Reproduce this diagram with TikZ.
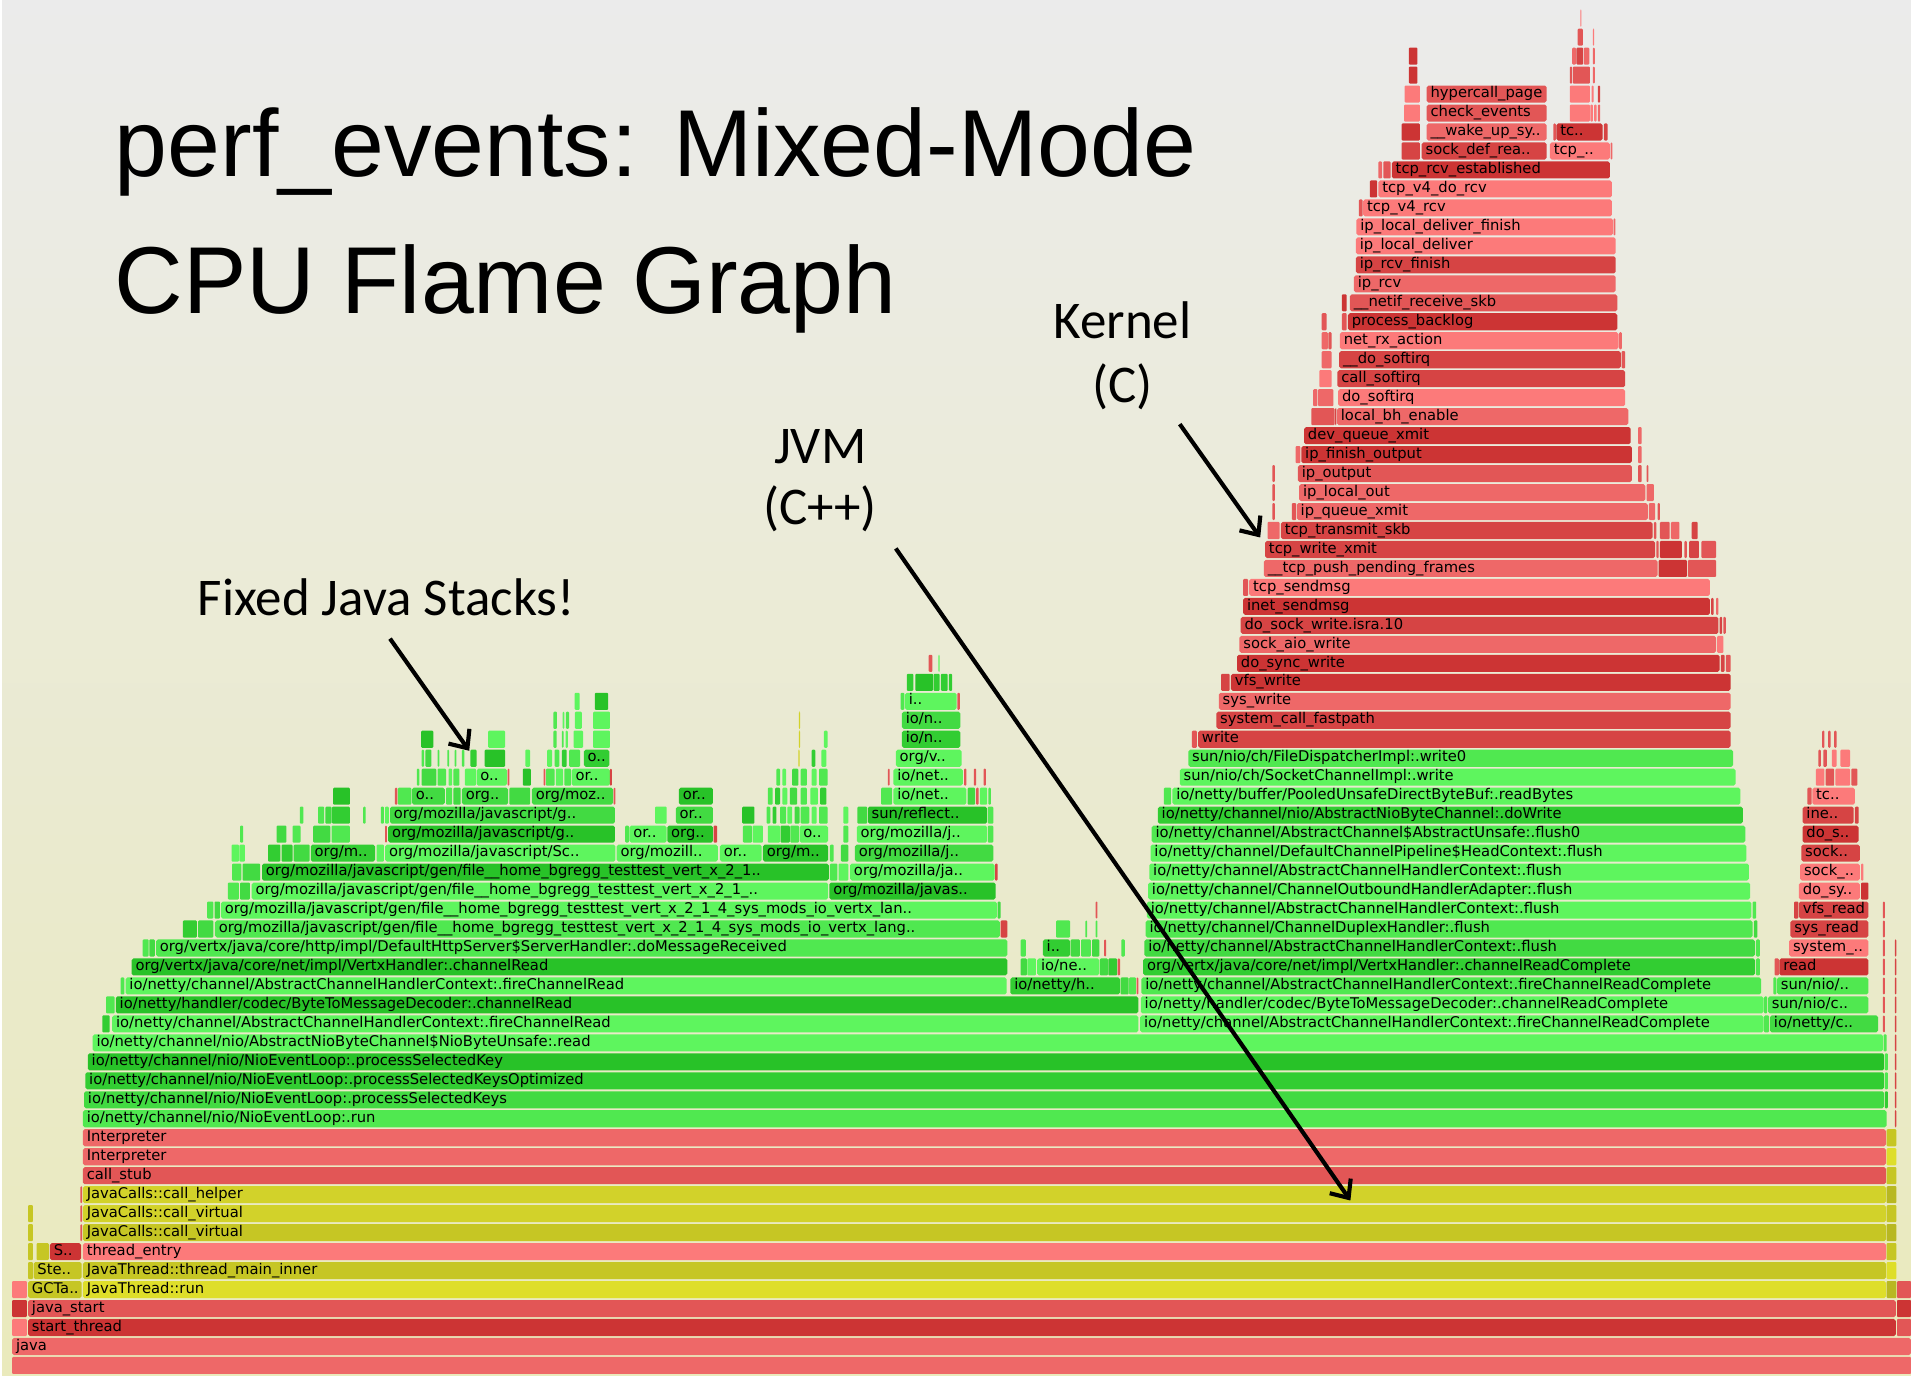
\documentclass[tikz,border=0pt]{standalone}
\usepackage{fontspec}
\usetikzlibrary{arrows.meta}
\newfontfamily\barfont{DejaVu Sans}
\newfontfamily\titlefont{Liberation Sans}
\newfontfamily\annfont{Carlito}
\definecolor{gA}{RGB}{94,245,94}
\definecolor{gB}{RGB}{80,232,80}
\definecolor{gC}{RGB}{66,218,66}
\definecolor{gD}{RGB}{50,205,50}
\definecolor{gE}{RGB}{40,194,40}
\definecolor{rA}{RGB}{252,122,122}
\definecolor{rB}{RGB}{238,104,104}
\definecolor{rC}{RGB}{226,86,86}
\definecolor{rD}{RGB}{214,68,68}
\definecolor{rE}{RGB}{204,52,52}
\definecolor{yA}{RGB}{222,222,42}
\definecolor{yB}{RGB}{210,210,42}
\definecolor{yC}{RGB}{198,198,36}
\definecolor{yD}{RGB}{184,184,34}
\definecolor{bgT}{RGB}{235,235,235}
\definecolor{bgB}{RGB}{234,234,188}
\newcounter{bc}
\newcommand{\FB}[5]{%
  \pgfmathsetmacro{\yc}{1120.37-15.57*#3}%
  \stepcounter{bc}%
  \fill[#4,rounded corners=1.5pt] (#1,\yc-7) rectangle (#2,\yc+7);%
  \node[lbl] (bar\arabic{bc}) at (#1+3,\yc+3) {#5};}
\newcommand{\FS}[4]{%
  \pgfmathsetmacro{\yc}{1120.37-15.57*#3}%
  \fill[#4,rounded corners=0.8pt] (#1,\yc-7) rectangle (#2,\yc+7);}
\begin{document}
\begin{tikzpicture}[x=1pt,y=-1pt,
  lbl/.style={anchor=base west,inner sep=0pt,font={\barfont\fontsize{12.1}{14}\selectfont},text=black},
  ttl/.style={anchor=base west,inner sep=0pt,font={\titlefont\fontsize{78}{90}\selectfont},text=black},
  ann/.style={anchor=base,inner sep=0pt,font={\annfont\fontsize{43.5}{50}\selectfont},text=black},
  arr/.style={line width=3.4pt,-{Straight Barb[length=12pt,width=21pt]}}]
\useasboundingbox (0,0) rectangle (1568,1129);
\shade[top color=bgT,bottom color=bgB] (0,0) rectangle (1568,1129);
\fill[white] (0,0) rectangle (2,1129);
% ---- base rows
\FS{10}{1568}{0}{rB}
\FB{10}{1568}{1}{rB}{java}
\FS{10}{22}{2}{rA}\FB{23}{1555.5}{2}{rE}{start\_thread}\FS{1556.5}{1568}{2}{rC}
\FS{10}{22}{3}{rE}\FB{23}{1555.5}{3}{rC}{java\_start}\FS{1556.5}{1568}{3}{rE}
\FS{10}{22}{4}{rA}\FB{23}{67}{4}{yC}{GCTa..}\FB{68}{1547.5}{4}{yA}{JavaThread::run}\FS{1548}{1556}{4}{yD}\FS{1556.5}{1568}{4}{rC}
\FS{23}{27}{5}{yC}\FB{27.5}{67}{5}{yC}{Ste..}\FB{68}{1547.5}{5}{yC}{JavaThread::thread\_main\_inner}\FS{1548}{1556}{5}{yA}
\FS{23}{27}{6}{yC}\FS{30}{40}{6}{yC}\FB{41}{66.5}{6}{rE}{S..}\FB{68}{1547.5}{6}{rA}{thread\_entry}\FS{1548}{1556}{6}{yC}
\FS{23}{27}{7}{yC}\FS{66}{67.3}{7}{rC}\FB{68}{1547.5}{7}{yC}{JavaCalls::call\_virtual}\FS{1548}{1556}{7}{yD}
\FS{23}{27}{8}{yC}\FS{66}{67.3}{8}{rC}\FB{68}{1547.5}{8}{yB}{JavaCalls::call\_virtual}\FS{1548}{1556}{8}{yC}
\FS{66}{67.3}{9}{rC}\FB{68}{1547.5}{9}{yB}{JavaCalls::call\_helper}\FS{1548}{1556}{9}{yD}
\FB{68}{1547.5}{10}{rC}{call\_stub}\FS{1548}{1556}{10}{yC}
\FB{68}{1547.5}{11}{rB}{Interpreter}\FS{1548}{1556}{11}{yA}
\FB{68}{1547.5}{12}{rB}{Interpreter}\FS{1548}{1556}{12}{yC}
% ---- java netty rows
\FB{68}{1548}{13}{gB}{io/netty/channel/nio/NioEventLoop:.run}
\FB{69}{1546}{14}{gC}{io/netty/channel/nio/NioEventLoop:.processSelectedKeys}\FS{1546.5}{1549}{14}{gD}
\FB{70}{1546}{15}{gD}{io/netty/channel/nio/NioEventLoop:.processSelectedKeysOptimized}\FS{1546.5}{1549}{15}{gB}
\FB{72}{1546}{16}{gE}{io/netty/channel/nio/NioEventLoop:.processSelectedKey}\FS{1546.5}{1549}{16}{gB}
\FB{76}{1545}{17}{gA}{io/netty/channel/nio/AbstractNioByteChannel\$NioByteUnsafe:.read}\FS{1545.5}{1548}{17}{gB}
\foreach \k in {13,...,22}{\FS{1554.8}{1556}{\k}{rD}}
\foreach \k in {18,...,24}{\FS{1545}{1546.5}{\k}{rC}}
% row 18
\FS{84}{90}{18}{gD}
\FB{92}{934}{18}{gA}{io/netty/channel/AbstractChannelHandlerContext:.fireChannelRead}
\FB{935.5}{1447}{18}{gA}{io/netty/channel/AbstractChannelHandlerContext:.fireChannelReadComplete}
\FS{1447.5}{1451.5}{18}{gB}\FB{1452.3}{1541}{18}{gC}{io/netty/c..}
% row 19
\FS{87}{94}{19}{gB}
\FB{95}{934}{19}{gE}{io/netty/handler/codec/ByteToMessageDecoder:.channelRead}
\FB{936}{1447}{19}{gA}{io/netty/handler/codec/ByteToMessageDecoder:.channelReadComplete}
\FS{1447.5}{1450}{19}{gB}\FB{1450.6}{1533}{19}{gB}{sun/nio/c..}
% row 20
\FS{99}{102}{20}{gB}
\FB{103}{826}{20}{gA}{io/netty/channel/AbstractChannelHandlerContext:.fireChannelRead}
\FB{829}{919}{20}{gD}{io/netty/h..}\FS{919.5}{926}{20}{gC}\FS{926.5}{932}{20}{gB}\FS{932.5}{934}{20}{rC}
\FB{936.5}{1445}{20}{gB}{io/netty/channel/AbstractChannelHandlerContext:.fireChannelReadComplete}
\FS{1455}{1457.5}{20}{gB}\FB{1458}{1533}{20}{gB}{sun/nio/..}
% row 21
\FB{108}{826.5}{21}{gE}{org/vertx/java/core/net/impl/VertxHandler:.channelRead}
\FS{837.5}{842.5}{21}{gC}\FS{843}{850}{21}{gA}\FB{851}{902}{21}{gA}{io/ne..}\FS{902.5}{909}{21}{gC}\FS{909.5}{916.5}{21}{gD}\FS{917}{919}{21}{rC}
\FB{938}{1440}{21}{gD}{org/vertx/java/core/net/impl/VertxHandler:.channelReadComplete}\FS{1441}{1444}{21}{gB}
\FS{1456}{1459.5}{21}{rC}\FB{1460}{1533}{21}{rE}{read}
% row 22
\FS{117}{122}{22}{gB}\FS{122.5}{127}{22}{gC}
\FB{128}{826.5}{22}{gB}{org/vertx/java/core/http/impl/DefaultHttpServer\$ServerHandler:.doMessageReceived}
\FS{837.5}{841.7}{22}{gB}\FB{855.6}{878}{22}{gD}{i..}\FS{878.5}{886}{22}{gC}\FS{887}{895}{22}{gB}\FS{896}{902}{22}{gC}\FS{906}{907.5}{22}{rC}\FS{920}{923}{22}{gB}
\FB{939}{1440}{22}{gC}{io/netty/channel/AbstractChannelHandlerContext:.flush}\FS{1441}{1444}{22}{gB}
\FB{1468}{1533}{22}{rA}{system\_..}
% row 23
\FS{150}{161.5}{23}{gD}\FS{162.5}{175}{23}{gC}
\FB{176.4}{820.5}{23}{gB}{org/mozilla/javascript/gen/file\_\_home\_bgregg\_testtest\_vert\_x\_2\_1\_4\_sys\_mods\_io\_vertx\_lang..}
\FS{821}{826.5}{23}{rD}\FS{866.5}{878}{23}{gB}\FS{890.5}{892}{23}{gB}\FS{899}{900.5}{23}{gB}
\FB{940}{1438}{23}{gB}{io/netty/channel/ChannelDuplexHandler:.flush}\FS{1439}{1442}{23}{gC}
\FB{1469}{1533}{23}{rD}{sys\_read}
% row 24
\FS{170}{175}{24}{gB}\FS{176}{180.5}{24}{gC}
\FB{181.3}{818}{24}{gA}{org/mozilla/javascript/gen/file\_\_home\_bgregg\_testtest\_vert\_x\_2\_1\_4\_sys\_mods\_io\_vertx\_lan..}
\FS{818.5}{821}{24}{gC}\FS{899}{900.5}{24}{rC}
\FB{941}{1437}{24}{gA}{io/netty/channel/AbstractChannelHandlerContext:.flush}\FS{1438}{1441}{24}{gB}
\FS{1472}{1475.5}{24}{rD}\FB{1476}{1533}{24}{rD}{vfs\_read}
% row 25
\FS{187}{196}{25}{gB}\FS{197}{205}{25}{gC}
\FB{206.5}{679.5}{25}{gA}{org/mozilla/javascript/gen/file\_\_home\_bgregg\_testtest\_vert\_x\_2\_1\_..}
\FB{680.5}{817}{25}{gE}{org/mozilla/javas..}
\FB{942}{1436}{25}{gA}{io/netty/channel/ChannelOutboundHandlerAdapter:.flush}
\FB{1476}{1526}{25}{rA}{do\_sy..}\FS{1527}{1533}{25}{rE}
% row 26
\FS{190.5}{198}{26}{gB}\FS{199}{213.5}{26}{gC}
\FB{215}{680}{26}{gE}{org/mozilla/javascript/gen/file\_\_home\_bgregg\_testtest\_vert\_x\_2\_1..}
\FS{681}{687}{26}{gB}\FS{688}{696}{26}{gA}\FB{697.5}{816}{26}{gA}{org/mozilla/ja..}\FS{816.5}{818.5}{26}{rD}
\FB{943}{1435}{26}{gA}{io/netty/channel/AbstractChannelHandlerContext:.flush}
\FB{1477}{1526}{26}{rA}{sock\_..}\FS{1527}{1529}{26}{rA}
% row 27
\FS{190}{196}{27}{gA}\FS{196.5}{201}{27}{gA}\FS{220}{230}{27}{gD}\FS{231}{240}{27}{gD}\FS{241}{254}{27}{gC}
\FB{255}{307.7}{27}{gD}{org/m..}\FS{309}{315}{27}{gA}
\FB{316}{505}{27}{gA}{org/mozilla/javascript/Sc..}
\FB{506}{589}{27}{gA}{org/mozill..}\FB{590.7}{625}{27}{gA}{or..}\FB{626}{679.5}{27}{gE}{org/m..}
\FS{681}{684}{27}{gB}\FS{690}{696}{27}{gC}\FB{701.5}{815}{27}{gC}{org/mozilla/j..}
\FB{944}{1433}{27}{gA}{io/netty/channel/DefaultChannelPipeline\$HeadContext:.flush}
\FB{1478}{1526}{27}{rD}{sock..}
% row 28
\FS{197}{199.5}{28}{gB}\FS{227}{235}{28}{gC}\FS{240}{246.6}{28}{gB}\FS{257}{271}{28}{gC}\FS{272}{287}{28}{gB}
\FS{316}{317.5}{28}{rC}\FB{318.5}{504.6}{28}{gE}{org/mozilla/javascript/g..}
\FS{513}{516}{28}{gB}\FB{516.5}{547}{28}{gA}{or..}\FB{547.5}{585}{28}{gE}{org..}\FS{585.5}{588.5}{28}{rD}
\FS{609.6}{617}{28}{gB}\FS{617.5}{626}{28}{gA}\FS{630}{640}{28}{gA}\FS{640.5}{648}{28}{gD}\FS{648.5}{655.5}{28}{gB}
\FB{656}{679.5}{28}{gA}{o..}\FS{692}{696}{28}{gB}\FB{703}{810}{28}{gA}{org/mozilla/j..}\FS{810.5}{815}{28}{gB}
\FB{945}{1432}{28}{gB}{io/netty/channel/AbstractChannel\$AbstractUnsafe:.flush0}
\FB{1479}{1525}{28}{rE}{do\_s..}
% row 29
\FS{246}{249}{29}{gB}\FS{261}{266}{29}{gB}\FS{267}{272}{29}{gC}\FS{272.5}{287}{29}{gD}\FS{298}{300}{29}{gB}\FS{312.5}{315}{29}{gB}\FS{316}{319}{29}{gA}
\FB{320}{504.6}{29}{gC}{org/mozilla/javascript/g..}
\FS{537.5}{547}{29}{gA}\FB{554.5}{585}{29}{gC}{or..}
\FS{609}{619}{29}{gE}\FS{629}{632}{29}{gB}\FS{634}{637}{29}{gD}\FS{640}{645}{29}{gB}\FS{646}{650}{29}{gA}\FS{652}{656}{29}{gC}\FS{657}{664}{29}{gB}\FS{666}{670}{29}{gA}\FS{672}{679}{29}{gB}
\FS{692}{696}{29}{gA}\FS{703.5}{711.5}{29}{gC}\FB{712}{810}{29}{gE}{sun/reflect..}\FS{810.5}{815}{29}{gB}
\FB{950}{1430}{29}{gD}{io/netty/channel/nio/AbstractNioByteChannel:.doWrite}
\FB{1479}{1521}{29}{rD}{ine..}\FS{1522}{1525}{29}{rD}
% row 30
\FS{273.4}{287}{30}{gE}\FS{324}{326}{30}{rC}\FS{326.5}{337.5}{30}{gB}
\FB{338}{365}{30}{gC}{o..}\FS{366}{371}{30}{gB}\FS{372}{378}{30}{gC}
\FB{379}{417}{30}{gC}{org..}\FS{418}{435}{30}{gC}\FB{436.5}{503}{30}{gC}{org/moz..}\FS{503.5}{505}{30}{rC}
\FB{557}{585}{30}{gE}{or..}
\FS{630}{634}{30}{gB}\FS{636}{640}{30}{gD}\FS{642}{646}{30}{gA}\FS{648}{654}{30}{gC}\FS{657}{662}{30}{gB}\FS{665}{671}{30}{gA}\FS{673}{678}{30}{gD}
\FS{723}{732}{30}{gB}\FB{733}{793}{30}{gA}{io/net..}\FS{794}{800}{30}{gC}\FS{801}{803}{30}{rC}\FS{804}{810}{30}{gA}\FS{811}{813}{30}{gB}
\FS{955}{961}{30}{gB}\FB{962}{1428}{30}{gA}{io/netty/buffer/PooledUnsafeDirectByteBuf:.readBytes}
\FS{1483}{1486.5}{30}{rC}\FB{1487}{1522}{30}{rA}{tc..}
% row 31
\FS{342}{344}{31}{gB}\FS{346}{358}{31}{gC}\FS{359}{366}{31}{gB}\FS{368}{371}{31}{gA}\FS{372}{377}{31}{gB}\FS{381.5}{390.5}{31}{gA}
\FB{391}{416}{31}{gA}{o..}\FS{416.5}{418}{31}{rC}\FS{429}{435.5}{31}{gE}\FS{446}{447.5}{31}{rC}
\FS{448}{455}{31}{gB}\FS{456}{462}{31}{gA}\FS{463}{468.5}{31}{gB}\FB{469}{500.5}{31}{gA}{or..}\FS{500.5}{502}{31}{rD}
\FS{637}{640}{31}{gB}\FS{642}{645}{31}{gA}\FS{650}{655}{31}{gC}\FS{657}{662}{31}{gB}\FS{666}{670}{31}{gA}\FS{672}{679}{31}{gB}
\FS{728.5}{730}{31}{rC}\FB{733}{790}{31}{gA}{io/net..}\FS{791}{793}{31}{rC}\FS{799}{801}{31}{rC}\FS{807}{809}{31}{rC}
\FB{968}{1424}{31}{gA}{sun/nio/ch/SocketChannelImpl:.write}
\FS{1490}{1497}{31}{rA}\FS{1498}{1505}{31}{rC}\FS{1506}{1518}{31}{rA}\FS{1519}{1524}{31}{rC}
% row 32
\FS{346}{348}{32}{gB}\FS{349}{354}{32}{gC}\FS{359}{360.5}{32}{gB}\FS{367}{368.5}{32}{gB}\FS{373}{374.5}{32}{gB}\FS{379}{381}{32}{gB}\FS{386}{391}{32}{gD}\FS{397.6}{414.4}{32}{gE}
\FS{431}{435}{32}{gA}\FS{449}{453}{32}{gA}\FS{455}{459}{32}{gB}\FS{461}{465}{32}{gD}\FS{467}{476}{32}{gB}\FB{479}{500}{32}{gD}{o..}
\FS{655}{656}{32}{yB}\FS{666}{669}{32}{gD}\FS{674}{678}{32}{gA}
\FB{735}{789}{32}{gA}{org/v..}
\FB{975}{1422}{32}{gB}{sun/nio/ch/FileDispatcherImpl:.write0}
\FS{1492}{1494}{32}{rC}\FS{1496}{1499}{32}{rC}\FS{1503}{1507}{32}{rA}\FS{1510}{1518}{32}{rA}
% row 33
\FS{345.5}{355.5}{33}{gE}\FS{400.5}{414.4}{33}{gA}\FS{454}{456.8}{33}{gB}\FS{461}{462.5}{33}{gB}\FS{464}{466}{33}{gA}\FS{470.6}{478.5}{33}{gA}\FS{486.6}{500.5}{33}{gA}
\FS{655.5}{656.5}{33}{yB}\FS{676}{679}{33}{gA}
\FB{740}{788}{33}{gD}{io/n..}
\FS{978}{982}{33}{rC}\FB{983}{1420}{33}{rD}{write}
\FS{1495}{1497}{33}{rC}\FS{1500}{1502}{33}{rC}\FS{1505}{1507}{33}{rC}
% row 34
\FS{454}{457}{34}{gB}\FS{461.6}{463}{34}{gA}\FS{464.4}{467}{34}{gB}\FS{471.7}{477.4}{34}{gA}\FS{486.6}{500.5}{34}{gA}
\FS{655.5}{656.5}{34}{yB}
\FB{740}{788}{34}{gC}{io/n..}
\FB{998}{1420}{34}{rD}{system\_call\_fastpath}
% row 35
\FS{471.5}{475.6}{35}{gA}\FS{488}{499}{35}{gE}
\FS{739}{742}{35}{gB}\FB{742.5}{785}{35}{gA}{i..}\FS{785.5}{787.5}{35}{rC}
\FB{1000}{1420}{35}{rB}{sys\_write}
% row 36
\FS{744}{749.4}{36}{gD}\FS{751}{765.6}{36}{gE}\FS{766}{771}{36}{gD}\FS{772}{777.6}{36}{gD}\FS{778.6}{781.3}{36}{gD}
\FS{1002}{1009}{36}{rD}\FB{1010}{1420}{36}{rE}{vfs\_write}
% row 37
\FS{762}{765}{37}{rC}\FS{770}{771}{37}{gA}
\FB{1015}{1411}{37}{rE}{do\_sync\_write}\FS{1412}{1415}{37}{rD}\FS{1416}{1420}{37}{rC}
% kernel
\FB{1017}{1408}{38}{rB}{sock\_aio\_write}\FS{1409}{1414}{38}{rA}
\FB{1018}{1410}{39}{rD}{do\_sock\_write.isra.10}\FS{1411}{1413}{39}{rD}\FS{1414}{1416}{39}{rC}
\FB{1020}{1403}{40}{rE}{inet\_sendmsg}\FS{1404}{1406}{40}{rD}\FS{1408}{1410}{40}{rB}
\FS{1020}{1024}{41}{rC}\FB{1025}{1403}{41}{rA}{tcp\_sendmsg}
\FB{1037}{1360}{42}{rB}{\_\_tcp\_push\_pending\_frames}\FS{1361}{1384}{42}{rE}\FS{1385}{1408}{42}{rC}
\FB{1038}{1358}{43}{rD}{tcp\_write\_xmit}\FS{1359}{1361}{43}{rC}\FS{1362}{1380}{43}{rE}\FS{1382}{1384}{43}{rC}\FS{1386}{1394}{43}{rD}\FS{1396}{1408}{43}{rC}
\FS{1040}{1050}{44}{rB}\FB{1051}{1356}{44}{rD}{tcp\_transmit\_skb}\FS{1357}{1359}{44}{rC}\FS{1362}{1370}{44}{rC}\FS{1371}{1378}{44}{rB}\FS{1388}{1393}{44}{rD}
\FS{1044}{1046}{45}{rC}\FS{1060}{1063.5}{45}{rC}\FB{1064}{1352}{45}{rB}{ip\_queue\_xmit}\FS{1353}{1358}{45}{rB}\FS{1360}{1362}{45}{rC}
\FS{1044}{1046}{46}{rC}\FB{1066}{1350}{46}{rB}{ip\_local\_out}\FS{1351}{1357}{46}{rB}
\FS{1044}{1046}{47}{rC}\FB{1065}{1339}{47}{rC}{ip\_output}\FS{1344}{1347}{47}{rC}\FS{1351}{1352.5}{47}{rC}
\FS{1063}{1067}{48}{rB}\FB{1067.7}{1339}{48}{rE}{ip\_finish\_output}\FS{1344}{1347}{48}{rB}
\FB{1070}{1338}{49}{rE}{dev\_queue\_xmit}\FS{1344}{1347}{49}{rB}
\FS{1076}{1095}{50}{rC}\FS{1095.5}{1096.5}{50}{rD}\FB{1097}{1336}{50}{rB}{local\_bh\_enable}
\FS{1077.5}{1081}{51}{rB}\FS{1081.5}{1094}{51}{rB}\FB{1098}{1333.5}{51}{rA}{do\_softirq}
\FS{1082.5}{1092.6}{52}{rA}\FB{1097.3}{1333.5}{52}{rD}{call\_softirq}
\FS{1084.4}{1092.6}{53}{rB}\FB{1098.8}{1330}{53}{rD}{\_\_do\_softirq}\FS{1330.5}{1333.5}{53}{rC}
\FS{1084.4}{1089.5}{54}{rB}\FS{1090}{1092.6}{54}{rC}\FB{1099.4}{1328}{54}{rA}{net\_rx\_action}\FS{1328.5}{1330.8}{54}{rB}
\FS{1084.4}{1088.5}{55}{rC}\FS{1101}{1105}{55}{rC}\FB{1106}{1327}{55}{rE}{process\_backlog}
\FS{1101}{1105}{56}{rE}\FB{1107.6}{1327}{56}{rC}{\_\_netif\_receive\_skb}
\FB{1110.9}{1325.7}{57}{rB}{ip\_rcv}
\FB{1112.5}{1325.7}{58}{rD}{ip\_rcv\_finish}
\FB{1112.5}{1325.7}{59}{rA}{ip\_local\_deliver}
\FB{1113}{1323.5}{60}{rA}{ip\_local\_deliver\_finish}\FS{1324}{1325.5}{60}{rB}
\FS{1115}{1118}{61}{rC}\FB{1118.5}{1322.6}{61}{rA}{tcp\_v4\_rcv}
\FS{1124}{1130}{62}{rE}\FB{1131}{1322.6}{62}{rA}{tcp\_v4\_do\_rcv}
\FS{1131}{1134}{63}{rB}\FS{1135}{1141}{63}{rC}\FB{1142}{1321}{63}{rE}{tcp\_rcv\_established}
\FS{1150}{1165}{64}{rD}\FB{1166.5}{1269}{64}{rD}{sock\_def\_rea..}\FB{1271.7}{1321}{64}{rA}{tcp\_..}\FS{1321.5}{1323}{64}{rB}
\FS{1150}{1165}{65}{rE}\FB{1170.6}{1269}{65}{rB}{\_\_wake\_up\_sy..}\FS{1274.5}{1276.5}{65}{rC}\FB{1277}{1315}{65}{rE}{tc..}\FS{1316}{1319}{65}{rD}
\FS{1152}{1165}{66}{rA}\FB{1170.6}{1269}{66}{rC}{check\_events}\FS{1288}{1304.5}{66}{rA}\FS{1305}{1307}{66}{rA}\FS{1308}{1310}{66}{rA}\FS{1311}{1313}{66}{rB}
\FS{1152.5}{1165}{67}{rA}\FB{1170.6}{1269}{67}{rC}{hypercall\_page}\FS{1288}{1304.5}{67}{rA}\FS{1306}{1307.5}{67}{rA}\FS{1311}{1313}{67}{rD}
\FS{1156}{1163}{68}{rE}\FS{1288}{1290}{68}{rC}\FS{1290.5}{1304.5}{68}{rC}\FS{1307}{1308.5}{68}{rB}
\FS{1156}{1163}{69}{rE}\FS{1290}{1293}{69}{rB}\FS{1293.5}{1299}{69}{rD}\FS{1299.5}{1304}{69}{rB}\FS{1307}{1308.5}{69}{rB}
\FS{1294.5}{1298.7}{70}{rC}\FS{1307}{1308}{70}{rA}
\FS{1296.6}{1297.6}{71}{rA}
% ---- title
\node[ttl] (title1) at (94,145) {perf\_events: Mixed-Mode};
\node[ttl] (title2) at (94,257) {CPU Flame Graph};
% ---- annotations
\node[ann] (kern1) at (921,278) {Kernel};
\node[ann] (kern2) at (921,330) {(C)};
\node[ann] (jvm1) at (673,380) {JVM};
\node[ann] (jvm2) at (673,430) {(C++)};
\node[ann,anchor=base west] (fixed) at (162,505) {Fixed Java Stacks!};
\coordinate (kernS) at (968,348);
\coordinate (kernT) at (1034,441);
\coordinate (jvmS) at (735,450);
\coordinate (jvmT) at (1108,985);
\coordinate (fixS) at (320,524);
\coordinate (fixT) at (385,616);
\draw[arr] (kernS) -- (kernT);
\draw[arr] (jvmS) -- (jvmT);
\draw[arr] (fixS) -- (fixT);
\end{tikzpicture}
\end{document}
